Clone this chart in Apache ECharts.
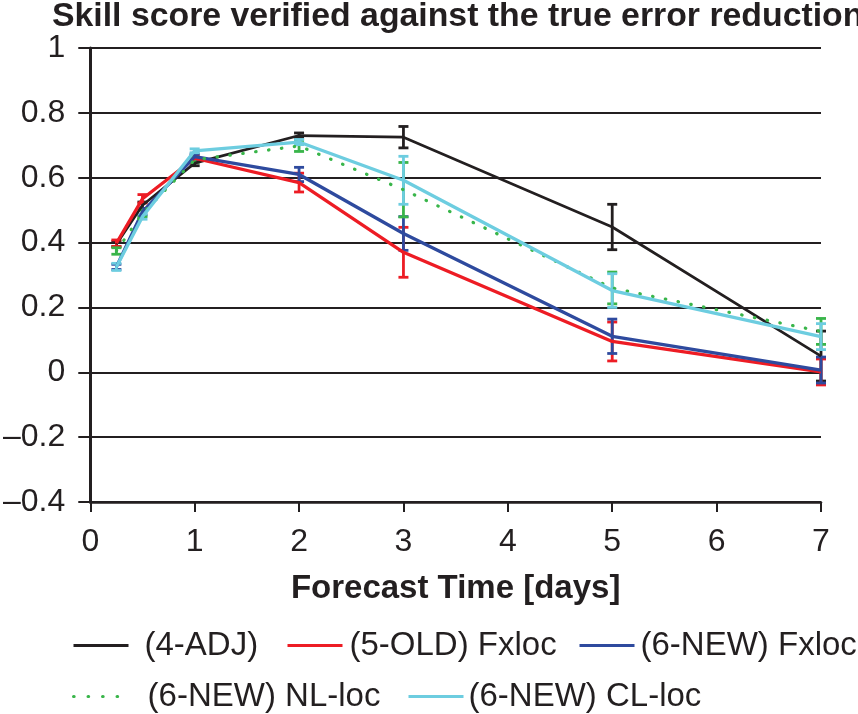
<!DOCTYPE html>
<html lang="en">
<head>
    <meta charset="UTF-8">
    <title>Skill score</title>
    <style>
        html,body{margin:0;padding:0;background:#fff;}
        #chart{width:858px;height:714px;}
    </style>
</head>
<body>
<div id="chart"></div>
<script src="https://cdn.jsdelivr.net/npm/echarts@6/dist/echarts.min.js"></script>
<script>
    // forecast time [days]
    let days = [0.25, 0.5, 1, 2, 3, 5, 7];

    // skill score per experiment, with half-length of the error bar
    let adj = [0.395, 0.515, 0.645, 0.73, 0.725, 0.448, 0.05];
    let adjErr = [0.008, 0.01, 0.008, 0.008, 0.033, 0.07, 0.077];

    let oldFx = [0.398, 0.535, 0.66, 0.585, 0.37, 0.095, 0.001];
    let oldFxErr = [0.01, 0.013, 0.008, 0.029, 0.077, 0.06, 0.04];

    let newFx = [0.325, 0.495, 0.665, 0.61, 0.428, 0.111, 0.007];
    let newFxErr = [0.008, 0.01, 0.008, 0.022, 0.052, 0.053, 0.04];

    let newNL = [0.374, 0.49, 0.655, 0.698, 0.563, 0.26, 0.126];
    let newNLErr = [0.01, 0.01, 0.008, 0.017, 0.084, 0.049, 0.04];

    let newCL = [0.325, 0.48, 0.683, 0.71, 0.592, 0.252, 0.11];
    let newCLErr = [0.011, 0.008, 0.006, 0.008, 0.074, 0.052, 0.04];

    let names = ['(4-ADJ)', '(5-OLD) Fxloc', '(6-NEW) Fxloc', '(6-NEW) NL-loc', '(6-NEW) CL-loc'];
    let yTicks = [-0.4, -0.2, 0, 0.2, 0.4, 0.6, 0.8, 1];

    let txt = '#231f20';
    let font = 'Liberation Sans, Arial, Helvetica, sans-serif';

    let myChart = echarts.init(document.getElementById('chart'));

    function pairs(vals){
        return days.map(function(d, i){ return [d, vals[i]]; });
    }
    function bars(vals, errs){
        return days.map(function(d, i){ return [d, vals[i] - errs[i], vals[i] + errs[i]]; });
    }

    function lineSeries(name, vals, color, width, type){
        return {
            name: name,
            type: 'line',
            data: pairs(vals),
            symbol: 'none',
            z: 3,
            lineStyle: {color: color, width: width, type: type || 'solid', cap: type ? 'round' : 'butt'},
            itemStyle: {color: color},
            animation: false
        };
    }

    function errSeries(name, vals, errs, color){
        return {
            name: name + ' err',
            type: 'custom',
            data: bars(vals, errs),
            z: 3,
            renderItem: function(params, api){
                let x = api.value(0);
                let lo = api.coord([x, api.value(1)]);
                let hi = api.coord([x, api.value(2)]);
                let w = 5;
                let st = {stroke: color, lineWidth: 2.8};
                return {
                    type: 'group',
                    children: [
                        {type: 'line', shape: {x1: lo[0], y1: lo[1], x2: hi[0], y2: hi[1]}, style: st},
                        {type: 'line', shape: {x1: lo[0] - w, y1: lo[1], x2: lo[0] + w, y2: lo[1]}, style: st},
                        {type: 'line', shape: {x1: hi[0] - w, y1: hi[1], x2: hi[0] + w, y2: hi[1]}, style: st}
                    ]
                };
            },
            animation: false
        };
    }

    function legendAt(name, left, top, pad, dotted){
        return {
            data: [name],
            left: left,
            top: top,
            padding: 0,
            itemWidth: 55,
            itemHeight: 14,
            selectedMode: false,
            itemStyle: {opacity: 0},
            lineStyle: dotted ? {width: 3.2, type: [0.5, 14], cap: 'round'} : {width: 3},
            textStyle: {color: txt, fontSize: 33, fontFamily: font, padding: [0, 0, 0, pad]}
        };
    }

    let colors = ['#231f20', '#ed1c24', '#2e4a9e', '#39b54a', '#6dcde0'];

    let option = {
        backgroundColor: '#fff',
        title: {
            text: 'Skill score verified against the true error reduction',
            left: 52,
            top: 0,
            padding: 0,
            textStyle: {color: txt, fontSize: 33.8, fontWeight: 'bold', fontFamily: font}
        },
        legend: [
            legendAt(names[0], 72, 629, 11),
            legendAt(names[1], 286, 629, 2),
            legendAt(names[2], 578, 629, 1),
            legendAt(names[3], 72, 680, 14, true),
            legendAt(names[4], 407, 680, 0)
        ],
        grid: {left: 88, right: 37, top: 48, bottom: 212},
        xAxis: {
            type: 'value',
            min: 0,
            max: 7,
            interval: 1,
            name: 'Forecast Time [days]',
            nameLocation: 'middle',
            nameGap: 70,
            nameTextStyle: {color: txt, fontSize: 33, fontWeight: 'bold', fontFamily: font},
            axisLine: {show: true, onZero: false, lineStyle: {color: txt, width: 2.5}},
            axisTick: {show: true, inside: false, length: 10, lineStyle: {color: txt, width: 2}},
            axisLabel: {color: txt, fontSize: 32, fontFamily: font, margin: 24},
            splitLine: {show: false}
        },
        yAxis: {
            type: 'value',
            min: yTicks[0],
            max: yTicks[yTicks.length - 1],
            interval: 0.2,
            axisLine: {show: true, lineStyle: {color: txt, width: 3}},
            axisTick: {show: true, inside: false, length: 12, lineStyle: {color: txt, width: 2}},
            axisLabel: {
                color: txt, fontSize: 32, fontFamily: font, margin: 25,
                formatter: function(v){
                    let s = String(Number(v.toFixed(1)));
                    return s.replace('-', '\u2013');
                }
            },
            splitLine: {show: true, lineStyle: {color: txt, width: 2}}
        },
        series: [
            lineSeries(names[0], adj, colors[0], 2.7),
            errSeries(names[0], adj, adjErr, colors[0]),
            lineSeries(names[1], oldFx, colors[1], 3.3),
            errSeries(names[1], oldFx, oldFxErr, colors[1]),
            lineSeries(names[2], newFx, colors[2], 3.3),
            errSeries(names[2], newFx, newFxErr, colors[2]),
            lineSeries(names[3], newNL, colors[3], 3.2, [0.5, 12.5]),
            errSeries(names[3], newNL, newNLErr, colors[3]),
            lineSeries(names[4], newCL, colors[4], 3.3),
            errSeries(names[4], newCL, newCLErr, colors[4])
        ]
    };
    myChart.setOption(option);
</script>
</body>
</html>
